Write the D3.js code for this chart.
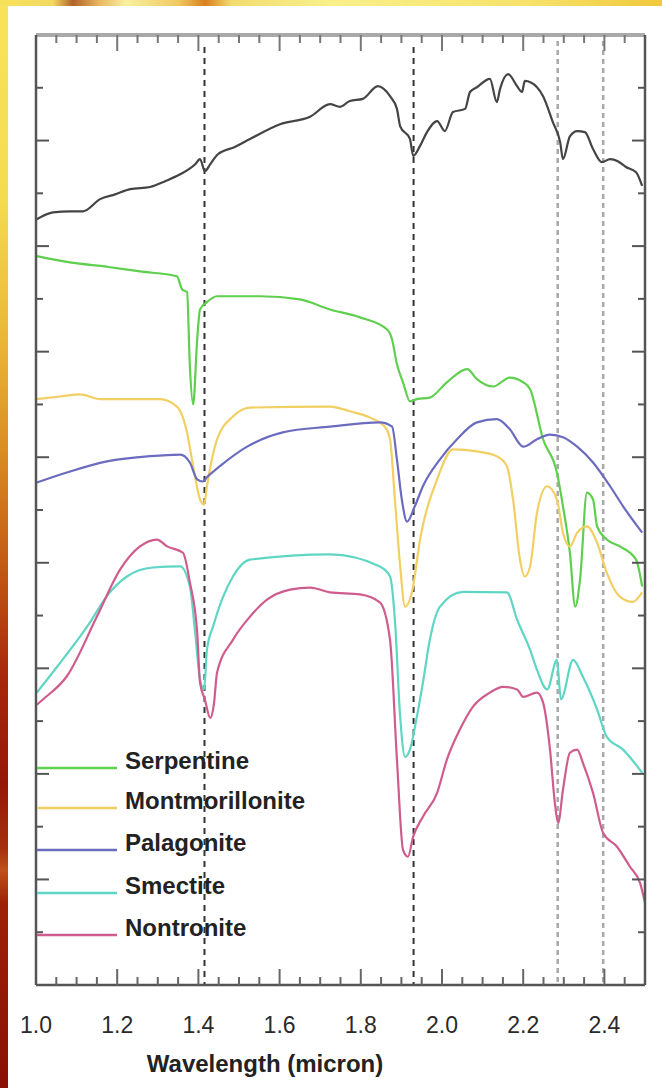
<!DOCTYPE html>
<html>
<head>
<meta charset="utf-8">
<script src="https://cdn.jsdelivr.net/npm/d3@7"></script>
<style>
  html, body { margin: 0; padding: 0; background: #fff; }
  svg { display: block; }
  text { font-family: "Liberation Sans", Arial, Helvetica, sans-serif; }
</style>
</head>
<body>
<svg id="chart" width="662" height="1088"></svg>
<script>
// ---------------- DATA ----------------
// wavelength (micron)
const blackW = [1.002,1.042,1.084,1.116,1.158,1.195,1.232,1.281,1.318,1.355,1.392,1.404,1.416,1.429,1.448,1.490,1.527,1.601,1.675,1.724,1.749,1.773,1.805,1.842,1.872,1.889,1.897,1.921,1.929,1.946,1.963,1.988,2.007,2.027,2.057,2.069,2.086,2.118,2.135,2.143,2.163,2.185,2.197,2.204,2.234,2.249,2.273,2.291,2.298,2.315,2.333,2.352,2.372,2.394,2.414,2.433,2.453,2.478,2.493];
const blackV = [14.51,14.64,14.66,14.66,14.89,14.98,15.08,15.12,15.23,15.36,15.55,15.65,15.42,15.55,15.74,15.88,16.03,16.31,16.45,16.69,16.64,16.75,16.79,17.03,16.84,16.60,16.27,16.03,15.71,15.90,16.16,16.37,16.18,16.54,16.60,16.92,17.01,17.17,16.73,16.98,17.26,17.03,16.92,17.13,17.01,16.84,16.35,15.97,15.65,16.08,16.18,16.16,15.84,15.59,15.65,15.61,15.50,15.40,15.14];

const serpW = [1.002,1.076,1.182,1.256,1.347,1.360,1.372,1.379,1.387,1.397,1.404,1.421,1.446,1.552,1.650,1.724,1.798,1.865,1.877,1.889,1.904,1.921,1.938,1.970,2.012,2.062,2.086,2.126,2.167,2.200,2.217,2.249,2.283,2.298,2.315,2.328,2.340,2.357,2.372,2.382,2.406,2.438,2.478,2.493];
const serpV = [13.81,13.70,13.60,13.52,13.43,13.18,13.13,11.72,11.00,12.23,12.80,12.94,13.05,13.05,12.99,12.80,12.65,12.42,12.23,11.76,11.42,11.06,11.10,11.13,11.42,11.67,11.48,11.34,11.51,11.42,11.29,10.34,9.71,9.07,8.19,7.17,7.68,9.33,9.20,8.69,8.44,8.31,8.06,7.55];

const montW = [1.002,1.059,1.108,1.158,1.305,1.347,1.372,1.387,1.404,1.414,1.421,1.446,1.485,1.527,1.724,1.773,1.823,1.860,1.872,1.884,1.897,1.909,1.926,1.946,1.988,2.027,2.086,2.135,2.160,2.175,2.192,2.204,2.217,2.234,2.259,2.283,2.298,2.315,2.333,2.357,2.382,2.406,2.438,2.470,2.493];
const montV = [11.10,11.15,11.19,11.10,11.10,10.96,10.47,9.83,9.20,9.10,9.45,10.34,10.77,10.94,10.96,10.87,10.75,10.57,10.34,9.20,7.93,7.17,7.44,8.44,9.58,10.15,10.11,10.02,9.83,9.20,8.06,7.74,7.93,8.95,9.45,9.20,8.57,8.31,8.57,8.69,8.38,7.81,7.36,7.26,7.44];

const palaW = [1.002,1.076,1.175,1.281,1.355,1.379,1.397,1.411,1.421,1.453,1.520,1.608,1.724,1.847,1.877,1.889,1.901,1.914,1.933,1.953,1.995,2.037,2.086,2.135,2.167,2.200,2.234,2.266,2.298,2.333,2.372,2.414,2.446,2.493];
const palaV = [9.52,9.71,9.92,10.02,10.05,9.90,9.58,9.54,9.62,9.83,10.20,10.47,10.58,10.66,10.58,9.96,9.20,8.78,9.07,9.45,9.96,10.34,10.66,10.72,10.53,10.20,10.34,10.43,10.38,10.20,9.90,9.45,9.07,8.57];

const smecW = [1.002,1.052,1.126,1.182,1.224,1.288,1.355,1.379,1.392,1.404,1.414,1.421,1.436,1.485,1.527,1.724,1.847,1.872,1.884,1.897,1.909,1.921,1.938,1.953,1.970,1.995,2.052,2.160,2.185,2.217,2.234,2.259,2.283,2.293,2.323,2.347,2.382,2.406,2.446,2.493];
const smecV = [5.54,6.03,6.79,7.44,7.74,7.91,7.93,7.55,6.68,5.79,5.60,6.35,6.79,7.74,8.06,8.16,7.93,7.74,6.92,5.08,4.32,4.46,5.08,5.73,6.54,7.17,7.45,7.44,6.92,6.35,5.97,5.60,6.16,5.41,6.16,5.84,5.22,4.70,4.46,4.02];

const nontW = [1.002,1.017,1.076,1.150,1.207,1.256,1.298,1.323,1.362,1.379,1.397,1.404,1.416,1.429,1.438,1.446,1.485,1.527,1.569,1.626,1.675,1.724,1.798,1.847,1.872,1.889,1.904,1.916,1.929,1.953,1.988,2.012,2.044,2.076,2.118,2.150,2.185,2.200,2.234,2.249,2.266,2.278,2.286,2.298,2.315,2.333,2.347,2.372,2.397,2.431,2.463,2.488,2.500];
const nontV = [5.31,5.41,5.85,6.98,7.87,8.31,8.44,8.31,8.19,7.63,6.68,5.73,5.41,5.06,5.31,5.92,6.54,6.98,7.30,7.49,7.53,7.44,7.40,7.25,6.54,4.27,2.56,2.43,2.81,3.19,3.64,4.27,4.84,5.27,5.54,5.65,5.60,5.46,5.54,5.35,4.46,3.45,3.07,3.70,4.40,4.46,4.21,3.64,2.88,2.62,2.24,1.93,1.56];

const legendNames = ["Serpentine","Montmorillonite","Palagonite","Smectite","Nontronite"];
const seriesColors = ["#5fcf4e","#f2cf62","#6b6bc0","#5fd6c4","#cf5c8c"];

const xTickLabels = ["1.0","1.2","1.4","1.6","1.8","2.0","2.2","2.4"];
const xMajorTicks = [1.0,1.2,1.4,1.6,1.8,2.0,2.2,2.4];
const xMinorTicks = d3.range(1.05, 2.4501, 0.05);
const yTicks = d3.range(1, 18);
const darkBands = [1.415, 1.93];
const greyBands = [2.285, 2.397];
const xTitle = "Wavelength (micron)";

// ---------------- LAYOUT ----------------
const svg = d3.select("#chart");
const W = 662, H = 1088;
const plot = {left: 36, right: 645, top: 35, bottom: 985};

// background gradients (slide frame)
const defs = svg.append("defs");
const gl = defs.append("linearGradient").attr("id","leftGrad").attr("x1",0).attr("y1",0).attr("x2",0).attr("y2",1);
[[0,"#f7e45a"],[0.18,"#f4dc50"],[0.32,"#e9b435"],[0.42,"#d88a22"],[0.52,"#c25a14"],[0.62,"#a8280c"],[0.72,"#951708"],[0.78,"#a4300e"],[0.8,"#c0501a"],[0.83,"#9c2208"],[1,"#8a1006"]]
  .forEach(([o,c]) => gl.append("stop").attr("offset",o).attr("stop-color",c));
const gt = defs.append("linearGradient").attr("id","topGrad").attr("x1",0).attr("y1",0).attr("x2",1).attr("y2",0);
[[0,"#f6e25a"],[0.08,"#f3d860"],[0.11,"#b0622a"],[0.15,"#e8b860"],[0.19,"#f8f0a0"],[0.27,"#f0c860"],[0.31,"#d8801e"],[0.35,"#f2dc70"],[0.5,"#f9f08a"],[0.8,"#f6e26a"],[1,"#f0c83c"]]
  .forEach(([o,c]) => gt.append("stop").attr("offset",o).attr("stop-color",c));

svg.append("rect").attr("x",0).attr("y",0).attr("width",W).attr("height",H).attr("fill","#fff");
svg.append("rect").attr("x",0).attr("y",0).attr("width",8).attr("height",H).attr("fill","url(#leftGrad)");
svg.append("rect").attr("x",0).attr("y",0).attr("width",W).attr("height",6).attr("fill","url(#topGrad)");

// scales
const x = d3.scaleLinear().domain([1.0, 2.5]).range([plot.left, plot.right]);
const y = d3.scaleLinear().domain([0, 18]).range([plot.bottom, plot.top]);

const g = svg.append("g");

// reference dashed lines
g.selectAll("line.dark").data(darkBands).join("line")
  .attr("x1", d => x(d)).attr("x2", d => x(d))
  .attr("y1", plot.top + 12).attr("y2", plot.bottom)
  .attr("stroke", "#333").attr("stroke-width", 2).attr("stroke-dasharray", "6,5");
g.selectAll("line.grey").data(greyBands).join("line")
  .attr("x1", d => x(d)).attr("x2", d => x(d))
  .attr("y1", plot.top + 6).attr("y2", plot.bottom)
  .attr("stroke", "#a8a8a8").attr("stroke-width", 2.5).attr("stroke-dasharray", "5,4");

// spectra
const line = d3.line().curve(d3.curveMonotoneX).x(d => x(d[0])).y(d => y(d[1]));
const zip = (a, b) => a.map((v, i) => [v, b[i]]);
const series = [
  {w: blackW, v: blackV, c: "#444"},
  {w: serpW, v: serpV, c: seriesColors[0]},
  {w: montW, v: montV, c: seriesColors[1]},
  {w: palaW, v: palaV, c: seriesColors[2]},
  {w: smecW, v: smecV, c: seriesColors[3]},
  {w: nontW, v: nontV, c: seriesColors[4]}
];
g.selectAll("path.spec").data(series).join("path")
  .attr("class","spec")
  .attr("d", d => line(zip(d.w, d.v)))
  .attr("fill","none").attr("stroke", d => d.c)
  .attr("stroke-width", 2.2).attr("stroke-linejoin","round");

// frame
g.append("line").attr("x1",plot.left).attr("x2",plot.right).attr("y1",plot.top).attr("y2",plot.top)
  .attr("stroke","#a9a9a9").attr("stroke-width",4);
g.append("line").attr("x1",plot.left).attr("x2",plot.left).attr("y1",plot.top).attr("y2",plot.bottom)
  .attr("stroke","#555").attr("stroke-width",2.5);
g.append("line").attr("x1",plot.right).attr("x2",plot.right).attr("y1",plot.top).attr("y2",plot.bottom)
  .attr("stroke","#555").attr("stroke-width",2.5);
g.append("line").attr("x1",plot.left).attr("x2",plot.right).attr("y1",plot.bottom).attr("y2",plot.bottom)
  .attr("stroke","#555").attr("stroke-width",2.5);

// x ticks (top & bottom, inward)
const isMajor = d => xMajorTicks.some(m => Math.abs(m - d) < 1e-6);
const xt = xMinorTicks;
g.selectAll("line.xtb").data(xt).join("line")
  .attr("x1", d => x(d)).attr("x2", d => x(d))
  .attr("y1", plot.bottom).attr("y2", d => plot.bottom - (isMajor(d) ? 16 : 8))
  .attr("stroke","#666").attr("stroke-width",2);
g.selectAll("line.xtt").data(xt).join("line")
  .attr("x1", d => x(d)).attr("x2", d => x(d))
  .attr("y1", plot.top).attr("y2", d => plot.top + (isMajor(d) ? 16 : 8))
  .attr("stroke","#777").attr("stroke-width",2);

// y ticks (left & right, inward)
g.selectAll("line.ytl").data(yTicks).join("line")
  .attr("x1", plot.left).attr("x2", d => plot.left + (d % 2 === 0 ? 13 : 7))
  .attr("y1", d => y(d)).attr("y2", d => y(d))
  .attr("stroke","#555").attr("stroke-width",2);
g.selectAll("line.ytr").data(yTicks).join("line")
  .attr("x1", plot.right).attr("x2", d => plot.right - (d % 2 === 0 ? 13 : 7))
  .attr("y1", d => y(d)).attr("y2", d => y(d))
  .attr("stroke","#555").attr("stroke-width",2);

// x tick labels
g.selectAll("text.xl").data(xMajorTicks).join("text")
  .attr("x", d => x(d)).attr("y", 1033)
  .attr("text-anchor","middle").attr("font-size", 23).attr("fill","#2a2a2a")
  .text((d, i) => xTickLabels[i]);

// x title
g.append("text").attr("x", 265).attr("y", 1072).attr("text-anchor","middle")
  .attr("font-size", 24).attr("font-weight","bold").attr("fill","#222").text(xTitle);

// legend
const legY = [768, 808, 850, 893, 935];
const leg = g.selectAll("g.leg").data(legendNames).join("g").attr("class","leg");
leg.append("line").attr("x1", 37).attr("x2", 117)
  .attr("y1", (d,i) => legY[i]).attr("y2", (d,i) => legY[i])
  .attr("stroke", (d,i) => seriesColors[i]).attr("stroke-width", 2.5);
leg.append("text").attr("x", 125).attr("y", (d,i) => legY[i] + 1)
  .attr("font-size", 24).attr("font-weight","bold").attr("fill","#222")
  .text(d => d);
</script>
</body>
</html>
